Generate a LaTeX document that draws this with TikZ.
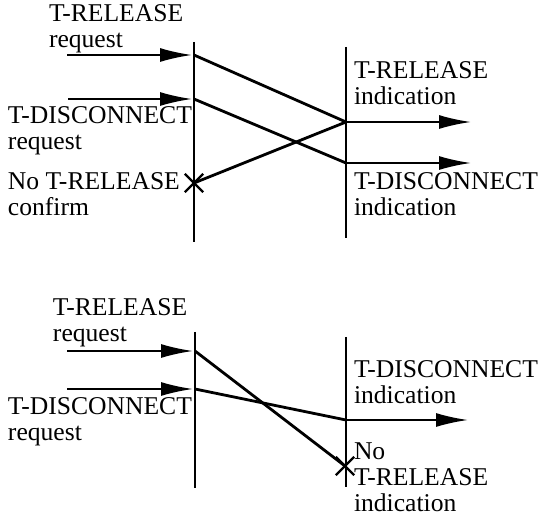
\documentclass[tikz,border=0pt]{standalone}
\usepackage{fontspec}
\setmainfont{Liberation Serif}
\usetikzlibrary{arrows.meta,shapes.misc}

\begin{document}
\begin{tikzpicture}[x=0.5pt,y=-0.5pt,line width=1pt,
    msg/.style={-{Latex[length=16pt,width=7pt]},shorten >=1pt},
    pdu/.style={line width=1.4pt},
    lbl/.style={anchor=base west,align=left,inner sep=0pt,font=\fontsize{12.8}{13}\selectfont},
    lost/.style={cross out,draw,minimum size=8pt,inner sep=0pt,line width=1.2pt}]
    \useasboundingbox (0,0) rectangle (541,518);

    \coordinate (LT0) at (194,42);
    \coordinate (LT1) at (194,242);
    \coordinate (RT0) at (346,47);
    \coordinate (RT1) at (346,238);
    \coordinate (A1) at (194,55);
    \coordinate (A2) at (194,99);
    \coordinate (B1) at (346,122);
    \coordinate (B2) at (346,163);
    \coordinate (S1) at (67,55);
    \coordinate (S2) at (68,99);
    \coordinate (E1) at (473,122);
    \coordinate (E2) at (473,163);
    \node (X1) at (194,183) [lost]{};

    \node (TL1) at (48,48) [lbl]{T-RELEASE\\request};
    \node (TL2) at (7,150) [lbl]{T-DISCONNECT\\request};
    \node (TL3) at (7,216) [lbl]{No T-RELEASE\\confirm};
    \node (TR1) at (353,105) [lbl]{T-RELEASE\\indication};
    \node (TR2) at (353,216) [lbl]{T-DISCONNECT\\indication};

    \draw (LT0) to (LT1);
    \draw (RT0) to (RT1);
    \draw [msg] (S1) to (A1);
    \draw [msg] (S2) to (A2);
    \draw [pdu] (A1) to (B1);
    \draw [pdu] (A2) to (B2);
    \draw [pdu] (B1) to (X1.center);
    \draw [msg] (B1) to (E1);
    \draw [msg] (B2) to (E2);

    \coordinate (LB0) at (195,332);
    \coordinate (LB1) at (195,488);
    \coordinate (RB0) at (346,337);
    \coordinate (RB1) at (346,487);
    \coordinate (C1) at (195,351);
    \coordinate (C2) at (195,389);
    \coordinate (D2) at (346,420);
    \coordinate (U1) at (67,351);
    \coordinate (U2) at (67,389);
    \coordinate (F2) at (470,420);
    \node (X2) at (345,466) [lost]{};

    \node (BL1) at (52,342) [lbl]{T-RELEASE\\request};
    \node (BL2) at (7,440) [lbl]{T-DISCONNECT\\request};
    \node (BR1) at (353,403) [lbl]{T-DISCONNECT\\indication};
    \node (BR2) at (353,511) [lbl]{No\\T-RELEASE\\indication};

    \draw (LB0) to (LB1);
    \draw (RB0) to (RB1);
    \draw [msg] (U1) to (C1);
    \draw [msg] (U2) to (C2);
    \draw [pdu] (C1) to (X2.center);
    \draw [pdu] (C2) to (D2);
    \draw [msg] (D2) to (F2);
\end{tikzpicture}
\end{document}
